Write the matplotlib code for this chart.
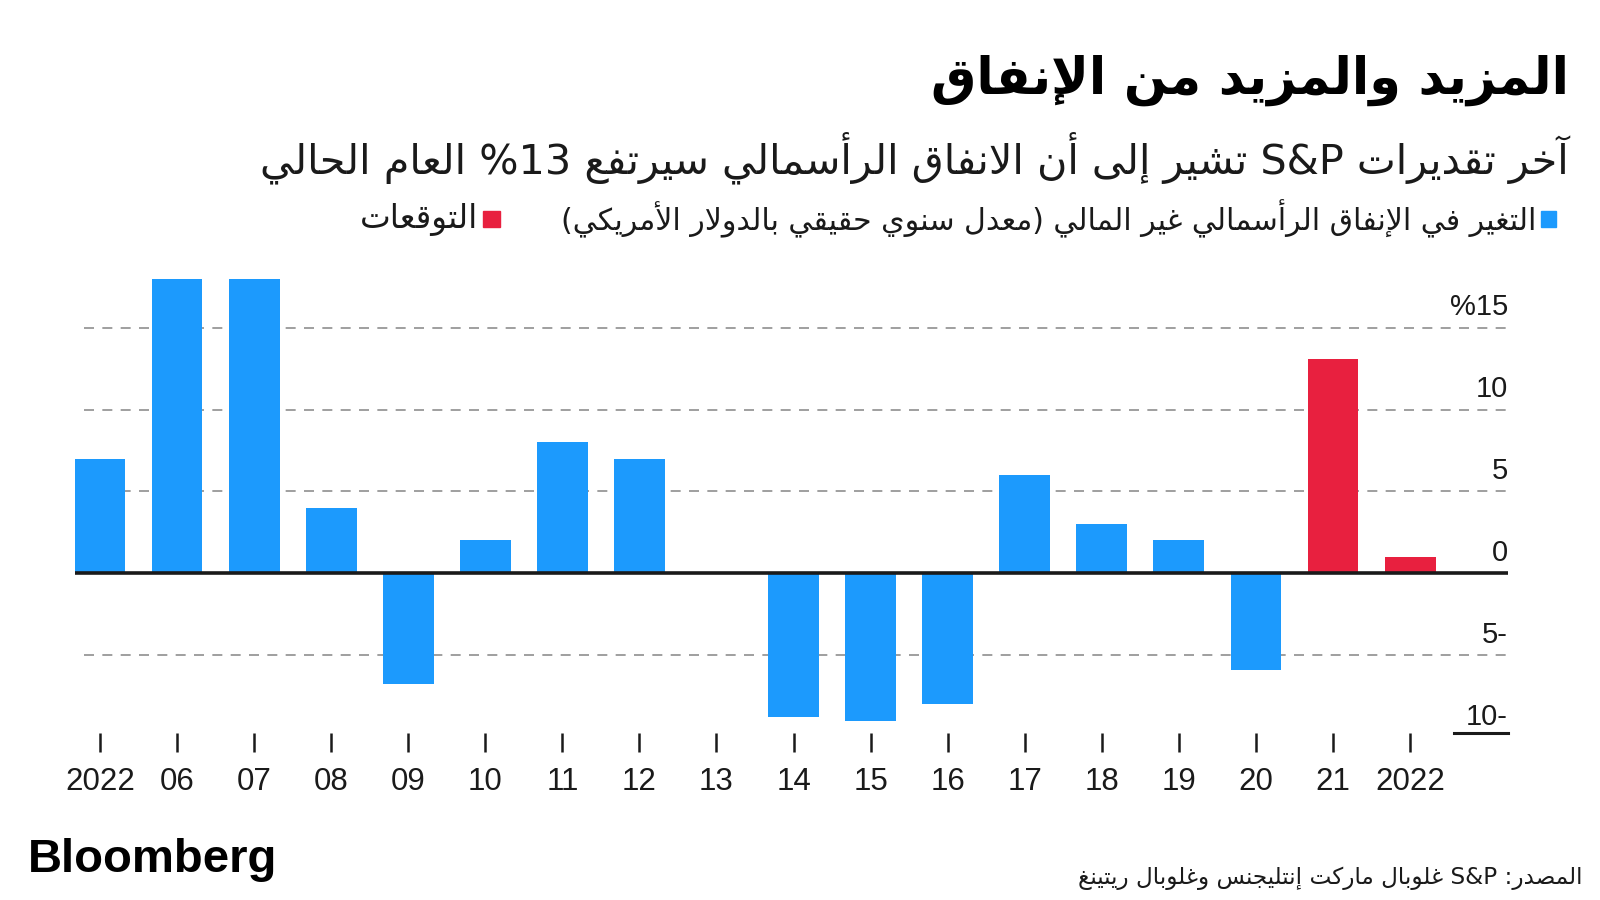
import re
import matplotlib
matplotlib.use("Agg")
import matplotlib.pyplot as plt
import numpy as np

# data
labels = ["2022", "06", "07", "08", "09", "10", "11", "12", "13",
          "14", "15", "16", "17", "18", "19", "20", "21", "2022"]
values = [7, 18, 18, 4, -6.8, 2, 8, 7, 0,
          -8.8, -9.05, -8.0, 6, 3, 2, -5.9, 13.1, 1]
is_forecast = [False] * 16 + [True, True]
yticks = [15, 10, 5, 0, -5, -10]
ytick_labels = ["%15", "10", "5", "0", "5-", "10-"]

title = "المزيد والمزيد من الإنفاق"
subtitle = "آخر تقديرات S&P تشير إلى أن الانفاق الرأسمالي سيرتفع 13% العام الحالي"
legend_actual = "التغير في الإنفاق الرأسمالي غير المالي (معدل سنوي حقيقي بالدولار الأمريكي)"
legend_forecast = "التوقعات"
source = "المصدر: S&P غلوبال ماركت إنتليجنس وغلوبال ريتينغ"

BLUE = "#1c9afd"
RED = "#e8203f"

# minimal arabic shaping + right-to-left ordering (matplotlib does neither)
TWO = {'آ': 0xFE81, 'أ': 0xFE83, 'ؤ': 0xFE85, 'إ': 0xFE87, 'ا': 0xFE8D, 'ة': 0xFE93,
       'د': 0xFEA9, 'ذ': 0xFEAB, 'ر': 0xFEAD, 'ز': 0xFEAF, 'و': 0xFEED, 'ى': 0xFEEF}
FOUR = {'ئ': 0xFE89, 'ب': 0xFE8F, 'ت': 0xFE95, 'ث': 0xFE99, 'ج': 0xFE9D, 'ح': 0xFEA1,
        'خ': 0xFEA5, 'س': 0xFEB1, 'ش': 0xFEB5, 'ص': 0xFEB9, 'ض': 0xFEBD, 'ط': 0xFEC1,
        'ظ': 0xFEC5, 'ع': 0xFEC9, 'غ': 0xFECD, 'ف': 0xFED1, 'ق': 0xFED5, 'ك': 0xFED9,
        'ل': 0xFEDD, 'م': 0xFEE1, 'ن': 0xFEE5, 'ه': 0xFEE9, 'ي': 0xFEF1}
LAMALEF = {'آ': 0xFEF5, 'أ': 0xFEF7, 'إ': 0xFEF9, 'ا': 0xFEFB}


def shape(text):
    units = []
    i = 0
    while i < len(text):
        c = text[i]
        if c == 'ل' and i + 1 < len(text) and text[i + 1] in LAMALEF:
            units.append(('LA', text[i + 1]))
            i += 2
        else:
            units.append(('C', c))
            i += 1
    out = []
    for k, (kind, c) in enumerate(units):
        prev = units[k - 1] if k > 0 else None
        nxt = units[k + 1] if k + 1 < len(units) else None
        jp = prev is not None and prev[0] == 'C' and prev[1] in FOUR
        jn = nxt is not None and (nxt[0] == 'LA' or nxt[1] in FOUR or nxt[1] in TWO)
        if kind == 'LA':
            out.append(chr(LAMALEF[c] + (1 if jp else 0)))
        elif c in FOUR:
            b = FOUR[c]
            out.append(chr(b + 3 if jp and jn else b + 1 if jp else b + 2 if jn else b))
        elif c in TWO:
            out.append(chr(TWO[c] + (1 if jp else 0)))
        else:
            out.append(c)
    return ''.join(out)


def rtl(text):
    toks = re.findall(r'[A-Za-z0-9&]+|.', shape(text))
    mirror = {'(': ')', ')': '('}
    return ''.join(mirror.get(t, t) for t in reversed(toks))


AR = ['DejaVu Sans']
NUM = ['Liberation Sans', 'DejaVu Sans']

fig = plt.figure(figsize=(16, 9), dpi=100)
ax = fig.add_axes([74.5 / 1600, 1 - 732.7 / 900, (1508 - 74.5) / 1600, (732.7 - 278.6) / 900])

x = np.arange(len(labels))
colors = [RED if f else BLUE for f in is_forecast]
ax.bar(x, values, width=0.66, color=colors, zorder=2)
ax.set_xlim(-0.33, 18.27)
ax.set_ylim(-9.75, 18)

for v in [15, 10, 5, -5]:
    ax.axhline(v, xmin=(83.7 - 74.5) / (1508 - 74.5), xmax=1, color='#8f8f8f',
               lw=1.2, ls=(0, (6, 5)), zorder=1)
ax.axhline(0, color='#1a1a1a', lw=2.6, zorder=3)
ax.axhline(-9.75, xmin=(1454 - 74.5) / (1508 - 74.5), xmax=1, color='#1a1a1a',
           lw=2.2, zorder=3, clip_on=False)

for v, lab in zip(yticks, ytick_labels):
    ax.text(18.27, v + 0.75, lab, ha='right', va='baseline', fontsize=21,
            family=NUM, color='#1a1a1a')

for s in ax.spines.values():
    s.set_visible(False)
ax.set_yticks([])
ax.set_xticks(x, labels)
ax.tick_params(axis='x', length=14, width=1.8, color='#1a1a1a', pad=11,
               labelsize=22.5, labelcolor='#1a1a1a')
for t in ax.get_xticklabels():
    t.set_family(NUM)

# titles
fig.text(1569 / 1600, 1 - 80 / 900, rtl(title), ha='right', va='center',
         fontsize=36.5, fontweight='bold', family=AR, color='black')
fig.text(1569 / 1600, 1 - 158 / 900, rtl(subtitle), ha='right', va='center',
         fontsize=29.8, family=AR, color='#1a1a1a')

# legend
fig.patches.append(plt.Rectangle((1541 / 1600, 1 - 227 / 900), 15 / 1600, 16 / 900,
                                 transform=fig.transFigure, color=BLUE))
fig.text(1536 / 1600, 1 - 219 / 900, rtl(legend_actual), ha='right', va='center',
         fontsize=21.6, family=AR, color='#1a1a1a')
fig.patches.append(plt.Rectangle((483 / 1600, 1 - 227 / 900), 17 / 1600, 16 / 900,
                                 transform=fig.transFigure, color=RED))
fig.text(478 / 1600, 1 - 219 / 900, rtl(legend_forecast), ha='right', va='center',
         fontsize=23.5, family=AR, color='#1a1a1a')

# footer
fig.text(28 / 1600, 1 - 860 / 900, "Bloomberg", ha='left', va='center',
         fontsize=34, fontweight='heavy', family=NUM, color='black')
fig.text(1582 / 1600, 1 - 878 / 900, rtl(source), ha='right', va='center',
         fontsize=16.7, family=AR, color='#1a1a1a')

fig.savefig("out.png", dpi=100, facecolor='white')
